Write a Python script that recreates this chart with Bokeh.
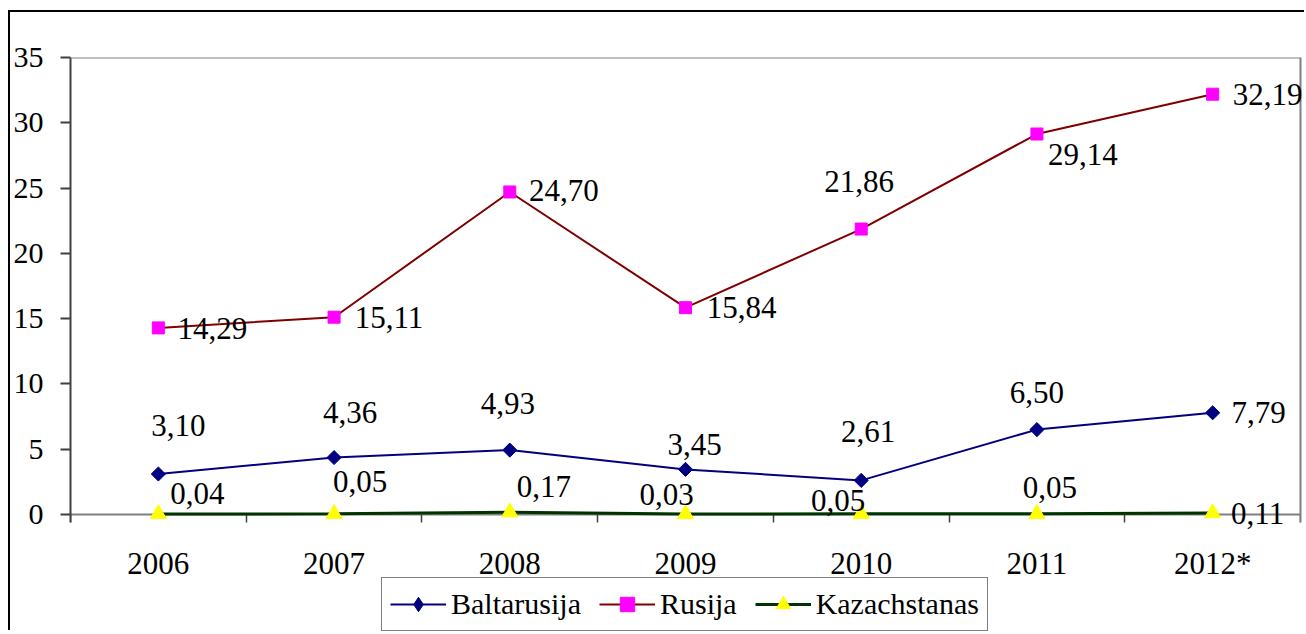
from bokeh.plotting import figure
from bokeh.models import (Range1d, LinearAxis, FixedTicker,
                          Legend, LegendItem, ColumnDataSource, Span)
from bokeh.core.properties import value
from bokeh.embed import file_html
from bokeh.resources import INLINE
import math

# ---- data ----
years = ["2006", "2007", "2008", "2009", "2010", "2011", "2012*"]
baltarusija = [3.10, 4.36, 4.93, 3.45, 2.61, 6.50, 7.79]
rusija = [14.29, 15.11, 24.70, 15.84, 21.86, 29.14, 32.19]
kazachstanas = [0.04, 0.05, 0.17, 0.03, 0.05, 0.05, 0.11]
y_ticks = [0, 5, 10, 15, 20, 25, 30, 35]

# label nudges in screen pixels (dx right, dy down)
balt_dx = [20, 16, -2, 9, 7, 0, 46]
balt_dy = [-48, -45, -47, -25, -49, -37, 0]
rus_dx = [54, 55, 54, 56, -2, 46, 55]
rus_dy = [1, 0, -1, 0, -48, 20, 0]
kaz_dx = [39, 26, 34, -19, -23, 13, 45]
kaz_dy = [-20, -32, -26, -20, -13, -26, 0]

FONT = "Liberation Serif"

# category centres on a numeric axis (one bin per year)
xc = [i + 0.5 for i in range(len(years))]
bins = list(range(len(years) + 1))


def fmt(v):
    return f"{v:.2f}".replace(".", ",")


p = figure(width=1296, height=620,
           x_range=Range1d(0, len(years)),
           y_range=Range1d(-9.04, 35),
           output_backend="svg", toolbar_location=None,
           x_axis_location=None,
           min_border_left=60, min_border_right=6,
           min_border_top=45, min_border_bottom=0)
p.styles = {"border-left": "2px solid black", "border-top": "2px solid black",
            "margin-top": "10px", "margin-left": "8px"}
p.grid.visible = False
p.outline_line_color = None
p.background_fill_color = "white"
p.border_fill_color = "white"

# y axis
ya = p.yaxis[0]
ya.ticker = FixedTicker(ticks=y_ticks)
ya.bounds = (-0.613, 35)
ya.axis_line_color = "#404040"
ya.axis_line_width = 2
ya.major_tick_line_color = "#404040"
ya.major_tick_line_width = 2
ya.major_tick_out = 10
ya.major_tick_in = 0
ya.minor_tick_line_color = None
ya.major_label_standoff = 17
ya.major_label_text_font = FONT
ya.major_label_text_font_size = "30px"
ya.major_label_text_color = "black"

# right border line
ra = LinearAxis(ticker=FixedTicker(ticks=[]), bounds=(-0.613, 35),
                axis_line_color="#808080", axis_line_width=2,
                major_tick_line_color=None, minor_tick_line_color=None,
                major_label_standoff=0)
p.add_layout(ra, "right")

# top border line
p.add_layout(Span(location=35, dimension="width", line_color="#808080", line_width=2))

# tick marks between categories, axis line at y = 0
ta = LinearAxis(ticker=FixedTicker(ticks=bins),
                major_label_overrides={b: "" for b in bins},
                fixed_location=0, axis_line_color="#808080", axis_line_width=2,
                major_tick_line_color="#404040", major_tick_line_width=1.5,
                major_tick_out=8, major_tick_in=0, minor_tick_line_color=None,
                major_label_standoff=0)
p.add_layout(ta, "below")

# category labels
ca = LinearAxis(ticker=FixedTicker(ticks=xc),
                major_label_overrides={x: y for x, y in zip(xc, years)},
                fixed_location=0,
                axis_line_color=None, major_tick_line_color=None,
                minor_tick_line_color=None, major_tick_out=0, major_tick_in=0,
                major_label_text_font=FONT, major_label_text_font_size="31px",
                major_label_text_color="black", major_label_standoff=32)
p.add_layout(ca, "below")

series = [
    ("Baltarusija", baltarusija, balt_dx, balt_dy, "#000080", 2, "square", math.pi / 4, 10, "#000080"),
    ("Rusija", rusija, rus_dx, rus_dy, "#800000", 2, "square", 0, 12, "#FF00FF"),
    ("Kazachstanas", kazachstanas, kaz_dx, kaz_dy, "#003300", 3, "triangle", 0, 16, "#FFFF00"),
]

items = []
for name, vals, dx, dy, lc, lw, mk, ang, sz, mc in series:
    src = ColumnDataSource(dict(x=xc, y=vals, lbl=[fmt(v) for v in vals],
                                dx=dx, dy=dy))
    lr = p.line(x="x", y="y", source=src, line_color=lc, line_width=lw)
    sr = p.scatter(x="x", y="y", source=src, marker=mk, angle=ang, size=sz,
                   fill_color=mc, line_color=mc)
    if name == "Kazachstanas":
        lr.level = "annotation"
        sr.level = "annotation"
    p.text(x="x", y="y", text="lbl", source=src, x_offset="dx", y_offset="dy",
           text_font=value(FONT), text_font_size="31px", text_color="black",
           text_align="center", text_baseline="middle", level="overlay")
    leg_r = [lr, sr]
    if ang:
        # legend swatch: diamond shape (legend swatches ignore marker angle)
        dr = p.scatter(x="x", y="y", source=src, marker="diamond", size=sz,
                       fill_color=mc, line_color=mc, visible=False)
        leg_r = [lr, dr]
    items.append(LegendItem(label=name, renderers=leg_r))

legend = Legend(items=items, location=(311, 1), orientation="horizontal",
                glyph_width=56, glyph_height=36, label_standoff=5, spacing=18,
                padding=8, margin=0, border_line_color="black", border_line_width=1.5,
                background_fill_color="white", background_fill_alpha=1,
                inactive_fill_alpha=0,
                label_text_font=FONT, label_text_font_size="30px",
                label_text_color="black")
p.add_layout(legend, "center")

open("out.html", "w").write(file_html(p, INLINE))
